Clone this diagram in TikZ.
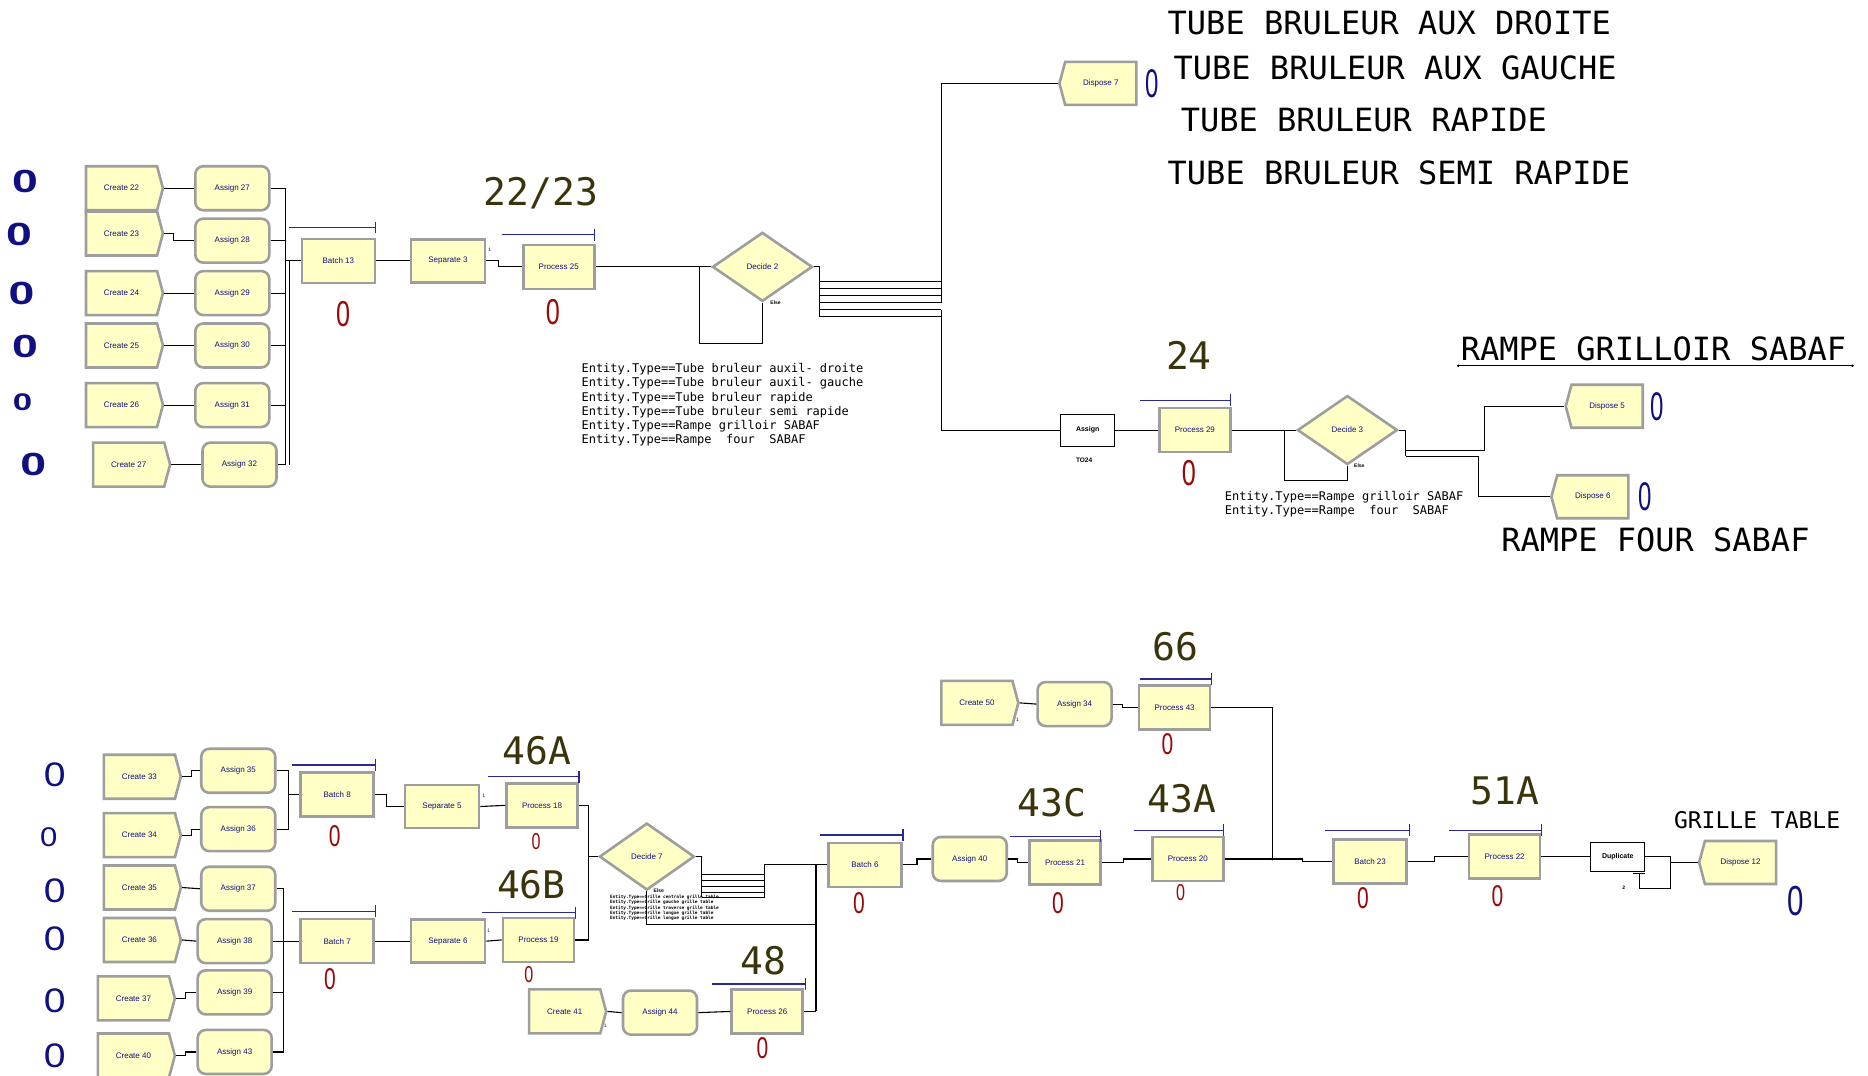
\documentclass[tikz,border=0pt]{standalone}
\usepackage{fontspec}
\usepackage{graphicx}
\setmainfont{Liberation Sans}
\newfontfamily\monof{DejaVu Sans Mono}
\usetikzlibrary{shapes.geometric,shapes.symbols,shapes.misc}
\definecolor{modfill}{RGB}{255,255,198}
\definecolor{modedge}{RGB}{158,158,158}
\definecolor{navyc}{RGB}{16,16,128}
\definecolor{cntred}{RGB}{150,10,10}
\definecolor{olivec}{RGB}{58,52,12}
\definecolor{barblue}{RGB}{40,40,150}
\newcommand{\cntzero}[1]{\scalebox{#1}[1]{0}}
\newcommand{\pbarline}[3]{\draw[pbar] (#1,#3) -- (#2,#3) (#2,#3-5) -- (#2,#3+5);}
\tikzset{
 mod/.style={fill=modfill, draw=modedge, line width=2.6pt, inner sep=0pt, text=navyc, font=\fontsize{8}{9}\selectfont},
 createbox/.style={mod, signal, signal to=east, signal pointer angle=150, minimum width=77pt, minimum height=44pt},
 disposebox/.style={mod, signal, signal to=west, signal pointer angle=150, minimum width=77pt, minimum height=43pt},
 assignbox/.style={mod, rectangle, rounded corners=8pt, minimum width=74pt, minimum height=44pt},
 procbox/.style={mod, rectangle, minimum width=71pt, minimum height=44pt},
 batchbox/.style={mod, rectangle, minimum width=73pt, minimum height=44pt},
 sepbox/.style={mod, rectangle, minimum width=74pt, minimum height=43pt},
 decidebox/.style={mod, diamond, minimum width=100pt, minimum height=69pt},
 plainbox/.style={draw=black, line width=0.9pt, fill=white, rectangle, inner sep=0pt, text=black, font=\fontsize{7}{8}\selectfont\bfseries},
 conn/.style={draw=black, line width=1.1pt},
 pbar/.style={draw=barblue, line width=1.4pt},
 bignum/.style={text=olivec, font=\monof\fontsize{38}{40}\selectfont, inner sep=0pt},
 biglab/.style={text=black, font=\monof\fontsize{32}{34}\selectfont, anchor=west, inner sep=0pt},
 redc/.style={text=cntred, font=\fontsize{36}{36}\selectfont, inner sep=0pt},
 redm/.style={text=cntred, font=\fontsize{30}{30}\selectfont, inner sep=0pt},
 reds/.style={text=cntred, font=\fontsize{23}{23}\selectfont, inner sep=0pt},
 bluec/.style={text=navyc, font=\fontsize{34}{34}\selectfont, inner sep=0pt},
 blueo/.style={text=navyc, font=\fontsize{32}{32}\selectfont\bfseries, inner sep=0pt},
 entl/.style={font=\monof\fontsize{12}{14.2}\selectfont, align=left, anchor=north west, inner sep=0pt},
 tinyt/.style={font=\fontsize{5}{5}\selectfont\bfseries, inner sep=0pt},
 onet/.style={font=\fontsize{5}{5}\selectfont, text=navyc, inner sep=0pt},
}
\begin{document}
\begin{tikzpicture}[x=1.1913pt,y=-1.1913pt]
\fill[white] (0,0) rectangle (1568,903);
\useasboundingbox (0,0) rectangle (1568,903);

% ================= TOP LEFT =================
\node[blueo] at (21,152) {\cntzero{1.45}};
\node[blueo] at (16,197) {\cntzero{1.45}};
\node[blueo] at (18,246) {\cntzero{1.45}};
\node[blueo] at (21,291) {\cntzero{1.45}};
\node[blueo,font=\fontsize{24}{24}\selectfont\bfseries] at (19,338) {\cntzero{1.45}};
\node[blueo] at (28,390) {\cntzero{1.45}};

\node[createbox] (c22) at (102,158) {Create 22};
\node[createbox] (c23) at (102,196) {Create 23};
\node[createbox] (c24) at (102,246) {Create 24};
\node[createbox] (c25) at (102,290) {Create 25};
\node[createbox] (c26) at (102,340) {Create 26};
\node[createbox] (c27) at (108,390) {Create 27};
\node[assignbox] (a27) at (195,158) {Assign 27};
\node[assignbox] (a28) at (195,202) {Assign 28};
\node[assignbox] (a29) at (195,246) {Assign 29};
\node[assignbox] (a30) at (195,290) {Assign 30};
\node[assignbox] (a31) at (195,340) {Assign 31};
\node[assignbox] (a32) at (201,390) {Assign 32};
\draw[conn] (c22.east) -- (a27.west);
\draw[conn] (c23.east) -- ++(8,0) |- (a28.west);
\draw[conn] (c24.east) -- (a29.west);
\draw[conn] (c25.east) -- (a30.west);
\draw[conn] (c26.east) -- (a31.west);
\draw[conn] (c27.east) -- (a32.west);

\node[batchbox] (b13) at (284,219) {Batch 13};
\coordinate (col1) at (240,219);
\coordinate (col1b) at (243,219);
\foreach \n in {a27,a28,a29,a30,a31,a32} \draw[conn] (\n.east) -- (\n.east -| col1);
\draw[conn] (a27.east -| col1) -- (a32.east -| col1);
\draw[conn] (col1b) -- (a32.east -| col1b);
\draw[conn] (col1) -- (b13.west);
\pbarline{243}{315}{191}
\node[redc] at (288,264) {\cntzero{0.7}};

\node[sepbox] (s3) at (376,219) {Separate 3};
\node[onet] at (411,210) {1};
\node[procbox] (p25) at (469,224) {Process 25};
\pbarline{421}{499}{197}
\node[redc] at (464,262) {\cntzero{0.7}};
\node[bignum] at (454,162) {22/23};
\draw[conn] (b13.east) -- (s3.west);
\draw[conn] (s3.east) -- ++(10,0) |- (p25.west);

\node[decidebox] (d2) at (640,224) {Decide 2};
\node[tinyt] at (651,254) {Else};
\draw[conn] (p25.east) -- (d2.west);
\coordinate (dl2) at (587,288);
\draw[conn] (d2.south) |- (dl2) |- (d2.west);
\node[entl] at (488,305) {Entity.Type==Tube bruleur auxil- droite\\
Entity.Type==Tube bruleur auxil- gauche\\
Entity.Type==Tube bruleur rapide\\
Entity.Type==Tube bruleur semi rapide\\
Entity.Type==Rampe grilloir SABAF\\
Entity.Type==Rampe~~four~~SABAF};

% Decide 2 outputs
\coordinate (o2t) at (688,224);
\coordinate (o2b) at (688,266);
\draw[conn] (d2.east) -- (o2t) -- (o2b);
\foreach \yy in {236,242,248,254,260,266} \draw[conn] (688,\yy) -- (790,\yy);
\node[disposebox] (dp7) at (924,70) {Dispose 7};
\node[bluec,font=\fontsize{40}{40}\selectfont] at (967,70) {\cntzero{0.6}};
\coordinate (tr1) at (790,70);
\draw[conn] (790,254) -- (tr1) -- (dp7.west);

\node[biglab] at (980,19) {TUBE BRULEUR AUX DROITE};
\node[biglab] at (985,57) {TUBE BRULEUR AUX GAUCHE};
\node[biglab] at (991,101) {TUBE BRULEUR RAPIDE};
\node[biglab] at (980,145) {TUBE BRULEUR SEMI RAPIDE};

% ================= TOP RIGHT =================
\node[plainbox, minimum width=54pt, minimum height=32pt] (asg) at (913,361) {Assign};
\node[tinyt, font=\fontsize{6.5}{6.5}\selectfont\bfseries] at (910,386) {TO24};
\draw[conn] (790,260) |- (asg.west);
\node[procbox] (p29) at (1003,361) {Process 29};
\pbarline{957}{1033}{336}
\node[redc] at (998,397) {\cntzero{0.7}};
\node[bignum] at (998,298) {24};
\draw[conn] (asg.east) -- (p29.west);
\node[decidebox] (d3) at (1131,361) {Decide 3};
\node[tinyt] at (1141,391) {Else};
\draw[conn] (p29.east) -- (d3.west);
\coordinate (dl3) at (1078,403);
\draw[conn] (d3.south) |- (dl3) |- (d3.west);
\node[entl] at (1028,412) {Entity.Type==Rampe grilloir SABAF\\
Entity.Type==Rampe~~four~~SABAF};
\coordinate (o3t) at (1180,361);
\coordinate (o3b) at (1180,383);
\draw[conn] (d3.east) -- (o3t) -- (o3b);
\node[disposebox] (dp5) at (1349,341) {Dispose 5};
\node[bluec,font=\fontsize{40}{40}\selectfont] at (1391,341) {\cntzero{0.6}};
\node[disposebox] (dp6) at (1337,417) {Dispose 6};
\node[bluec,font=\fontsize{40}{40}\selectfont] at (1381,417) {\cntzero{0.6}};
\draw[conn] (1180,378) -- (1246,378) |- (dp5.west);
\draw[conn] (o3b) -- (1241,383) |- (dp6.west);
\node[biglab] (rg) at (1226,293) {RAMPE GRILLOIR SABAF};
\draw[line width=1.1pt] (1224,307) -- (1555,307);
\fill[black] (1224,307) circle (1.4pt) (1555,307) circle (1.4pt);
\node[biglab] at (1260,453) {RAMPE FOUR SABAF};

% ================= BOTTOM LEFT =================
\node[bluec] at (46,650) {\cntzero{1.15}};
\node[bluec,font=\fontsize{27}{27}\selectfont] at (41,703) {\cntzero{1.15}};
\node[bluec] at (46,748) {\cntzero{1.15}};
\node[bluec] at (46,788) {\cntzero{1.15}};
\node[bluec] at (46,840) {\cntzero{1.15}};
\node[bluec] at (46,886) {\cntzero{1.15}};

\node[createbox] (c33) at (117,652) {Create 33};
\node[createbox] (c34) at (117,701) {Create 34};
\node[createbox] (c35) at (117,745) {Create 35};
\node[createbox] (c36) at (117,789) {Create 36};
\node[createbox] (c37) at (112,838) {Create 37};
\node[createbox] (c40) at (112,886) {Create 40};
\node[assignbox] (a35) at (200,647) {Assign 35};
\node[assignbox] (a36) at (200,696) {Assign 36};
\node[assignbox] (a37) at (200,746) {Assign 37};
\node[assignbox] (a38) at (197,790) {Assign 38};
\node[assignbox] (a39) at (197,833) {Assign 39};
\node[assignbox] (a43) at (197,883) {Assign 43};
\draw[conn] (c33.east) -- ++(8,0) |- (a35.west);
\draw[conn] (c34.east) -- ++(8,0) |- (a36.west);
\draw[conn] (c35.east) -- (a37.west);
\draw[conn] (c36.east) -- (a38.west);
\draw[conn] (c37.east) -- ++(8,0) |- (a39.west);
\draw[conn] (c40.east) -- ++(8,0) |- (a43.west);

\node[batchbox] (b8) at (283,667) {Batch 8};
\coordinate (col2) at (242,667);
\draw[conn] (a35.east) -| (col2);
\draw[conn] (a36.east) -| (col2);
\draw[conn] (col2) -- (b8.west);
\pbarline{245}{315}{642}
\node[redm] at (281,702) {\cntzero{0.7}};

\node[batchbox] (b7) at (283,790) {Batch 7};
\coordinate (col3) at (238,790);
\foreach \n in {a37,a38,a39,a43} \draw[conn] (\n.east) -- (\n.east -| col3);
\draw[conn] (a37.east -| col3) -- (a43.east -| col3);
\draw[conn] (col3) -- (b7.west);
\pbarline{245}{315}{765}
\node[redm] at (277,822) {\cntzero{0.7}};

\node[sepbox] (s5) at (371,677) {Separate 5};
\node[onet] at (406,668) {1};
\node[sepbox] (s6) at (376,790) {Separate 6};
\node[onet] at (410,781) {1};
\draw[conn] (b8.east) -- ++(10,0) |- (s5.west);
\draw[conn] (b7.east) -- (s6.west);

\node[procbox] (p18) at (455,676) {Process 18};
\pbarline{410}{486}{652}
\node[reds] at (450,706) {\cntzero{0.7}};
\node[bignum] at (451,630) {46A};
\node[procbox] (p19) at (452,789) {Process 19};
\pbarline{405}{483}{766}
\node[reds] at (444,818) {\cntzero{0.7}};
\node[bignum] at (446,743) {46B};
\draw[conn] (s5.east) -- (p18.west);
\draw[conn] (s6.east) -- (p19.west);

\node[decidebox, minimum width=95pt, minimum height=67pt] (d7) at (543,719) {Decide 7};
\node[tinyt] at (553,748) {Else};
\coordinate (col4) at (494,719);
\draw[conn] (p18.east) -| (col4);
\draw[conn] (p19.east) -| (col4);
\draw[conn] (col4) -- (d7.west);
\node[font=\monof\fontsize{4.4}{5.3}\selectfont\bfseries, align=left, anchor=north west, inner sep=0pt] at (512,751) {Entity.Type==Grille centrale grille table\\
Entity.Type==Grille gauche grille table\\
Entity.Type==Grille traverse grille table\\
Entity.Type==Grille longue grille table\\
Entity.Type==Grille longue grille table};

% Decide 7 outputs
\coordinate (o7t) at (589,719);
\coordinate (o7b) at (589,753);
\draw[conn] (d7.east) -- (o7t) -- (o7b);
\foreach \yy in {734,739,744,749,753} \draw[conn] (589,\yy) -- (642,\yy);
\node[batchbox] (b6) at (726,726) {Batch 6};
\pbarline{688}{758}{701}
\node[redm] at (721,758) {\cntzero{0.7}};
\draw[conn] (642,753) |- (b6.west);
\coordinate (tr7) at (685,776);
\draw[conn] (d7.south) |- (tr7);

\node[createbox] (c41) at (474,849) {Create 41};
\node[onet] at (508,861) {1};
\node[assignbox] (a44) at (554,850) {Assign 44};
\node[procbox] (p26) at (644,849) {Process 26};
\pbarline{598}{676}{826}
\node[redm] at (640,880) {\cntzero{0.7}};
\node[bignum] at (641,806) {48};
\draw[conn] (c41.east) -- (a44.west);
\draw[conn] (a44.east) -- (p26.west);
\coordinate (tr8) at (685,849);
\draw[conn] (p26.east) -- (tr8);
\draw[line width=2pt] (tr8) -- (685,726);

% ================= BOTTOM RIGHT =================
\node[assignbox] (a40) at (814,721) {Assign 40};
\node[procbox] (p21) at (894,724) {Process 21};
\pbarline{848}{924}{702}
\node[redm] at (888,758) {\cntzero{0.7}};
\node[bignum] at (883,674) {43C};
\node[procbox] (p20) at (997,721) {Process 20};
\pbarline{952}{1027}{697}
\node[reds] at (991,749) {\cntzero{0.7}};
\node[bignum] at (992,670) {43A};
\draw[conn] (b6.east) -- ++(12,0) |- (a40.west);
\draw[conn] (a40.east) -- ++(8,0) |- (p21.west);
\draw[conn] (p21.east) -- ++(18,0) |- (p20.west);

\node[createbox] (c50) at (820,590) {Create 50};
\node[onet] at (854,604) {1};
\node[assignbox] (a34) at (902,591) {Assign 34};
\node[procbox] (p43) at (986,594) {Process 43};
\pbarline{957}{1017}{570}
\node[redm] at (980,625) {\cntzero{0.7}};
\node[bignum] at (987,543) {66};
\draw[conn] (c50.east) -- (a34.west);
\draw[conn] (a34.east) -- ++(8,0) |- (p43.west);

\node[batchbox] (b23) at (1150,723) {Batch 23};
\pbarline{1112}{1183}{697}
\node[redm] at (1144,754) {\cntzero{0.7}};
\coordinate (jn) at (1068,721);
\draw[conn] (p20.east) -- (jn) -- ++(25,0) |- (b23.west);
\draw[conn] (p43.east) -| (jn);
\fill[black] (jn) circle (1.6pt);

\node[procbox] (p22) at (1263,719) {Process 22};
\pbarline{1216}{1294}{697}
\node[redm] at (1257,752) {\cntzero{0.7}};
\node[bignum] at (1263,664) {51A};
\draw[conn] (b23.east) -- ++(22,0) |- (p22.west);

\node[plainbox, minimum width=54pt, minimum height=29pt] (dup) at (1358,719) {Duplicate};
\node[tinyt] at (1363,745) {2};
\draw[conn] (p22.east) -- ++(20,0) |- (dup.west);
\node[disposebox] (dp12) at (1461,724) {Dispose 12};
\node[bluec,font=\fontsize{42}{42}\selectfont] at (1507,756) {\cntzero{0.7}};
\node[text=black, font=\monof\fontsize{23}{25}\selectfont, anchor=west, inner sep=0pt] at (1405,688) {GRILLE TABLE};
\coordinate (dj) at (1402,724);
\draw[conn] (dup.east) -- (1402,719) -- (1402,746) -- (1376,746) -- (1376,733);
\draw[conn] (1371,733) -- (1381,733);
\draw[conn] (dj) -- (dp12.west);
\end{tikzpicture}
\end{document}
